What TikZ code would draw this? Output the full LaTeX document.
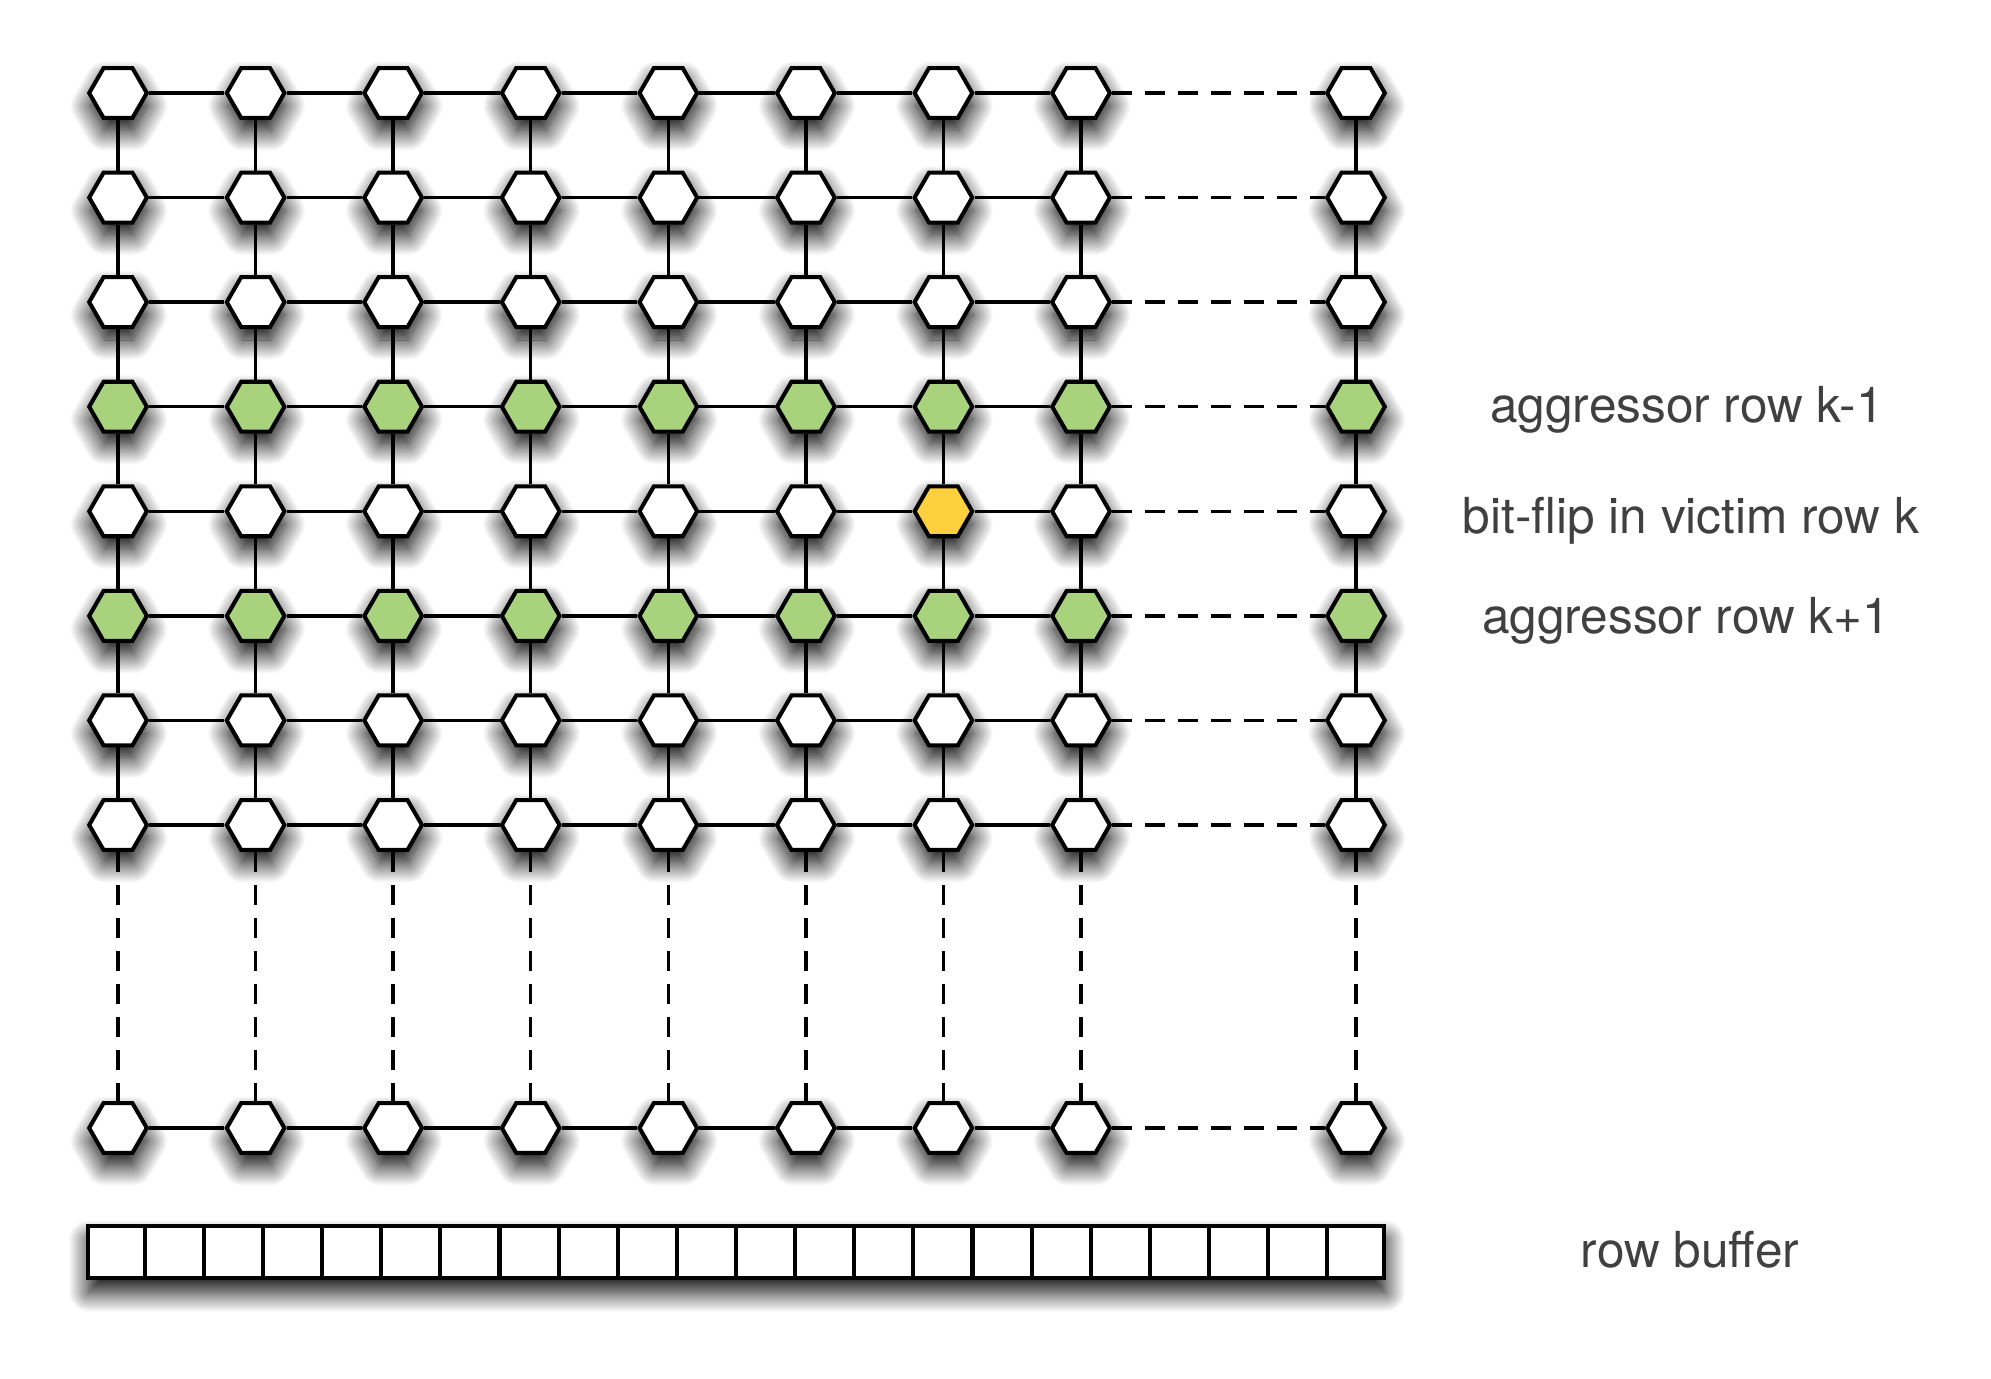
\documentclass[tikz,border=0pt]{standalone}
\usepackage{fontspec}
\setmainfont{TeX Gyre Heros}
\usepackage{tikz}
\usetikzlibrary{shapes.geometric, shadows.blur, positioning}

\definecolor{aggro}{RGB}{168,211,124}
\definecolor{victim}{RGB}{253,208,62}
\definecolor{labelgray}{RGB}{64,64,64}

\tikzset{
  cell/.style={regular polygon, regular polygon sides=6, draw, line width=1.15pt,
    minimum size=0.576cm, inner sep=0pt, fill=white,
    blur shadow={shadow xshift=0.01cm, shadow yshift=-0.13cm, shadow blur radius=0.2cm,
      shadow blur steps=24, shadow opacity=100}},
  wire/.style={line width=0.95pt},
  gap/.style={wire, dash pattern=on 0.2cm off 0.13cm},
  rowlabel/.style={text=labelgray, font=\fontsize{14.1}{16}\selectfont, anchor=base},
  bufcell/.style={draw, line width=1.15pt, fill=white, minimum height=0.52cm, minimum width=12.96cm,
    inner sep=0pt,
    blur shadow={shadow xshift=0.01cm, shadow yshift=-0.14cm, shadow blur radius=0.2cm,
      shadow blur steps=24, shadow opacity=100}}
}

\begin{document}
\begin{tikzpicture}[x=0.01cm, y=-0.01cm]
    \useasboundingbox (0,0) rectangle (1991,1379);

    % Memory cells
    \foreach \r/\y in {1/93, 2/197.6, 3/302.1, 4/406.7, 5/511.3, 6/615.9, 7/720.4, 8/825, 9/1128} {
      \foreach \c/\x in {1/118, 2/255.6, 3/393.1, 4/530.7, 5/668.3, 6/805.9, 7/943.4, 8/1081, 9/1356} {
        \def\cellfill{white}
        \ifnum\r=4 \def\cellfill{aggro}\fi
        \ifnum\r=6 \def\cellfill{aggro}\fi
        \ifnum\r=5 \ifnum\c=7 \def\cellfill{victim}\fi\fi
        \node [cell, fill=\cellfill] (n-\r-\c) at (\x,\y) {};
      }
    }

    % Word lines
    \foreach \r in {1,...,9} {
      \foreach \c [count=\n from 2] in {1,...,7}
        \draw [wire] (n-\r-\c) -- (n-\r-\n);
      \draw [gap] (n-\r-8) -- (n-\r-9);
    }

    % Bit lines
    \foreach \c in {1,...,9} {
      \foreach \r [count=\n from 2] in {1,...,7}
        \draw [wire] (n-\r-\c) -- (n-\n-\c);
      \draw [gap] (n-8-\c) -- (n-9-\c);
    }

    % Row buffer
    \node [bufcell] (buf) at (736,1252) {};
    \foreach \i in {1,...,21}
      \draw [line width=1.15pt] ($(buf.north west)!\i/22!(buf.north east)$) -- ($(buf.south west)!\i/22!(buf.south east)$);

    % Labels
    \node [rowlabel] (lbl-up) at (1687,422) {aggressor row k-1};
    \node [rowlabel] (lbl-victim) at (1691,533) {bit-flip in victim row k};
    \node [rowlabel] (lbl-down) at (1686,633) {aggressor row k+1};
    \node [rowlabel] (lbl-buf) at (1690,1267) {row buffer};

\end{tikzpicture}
\end{document}
